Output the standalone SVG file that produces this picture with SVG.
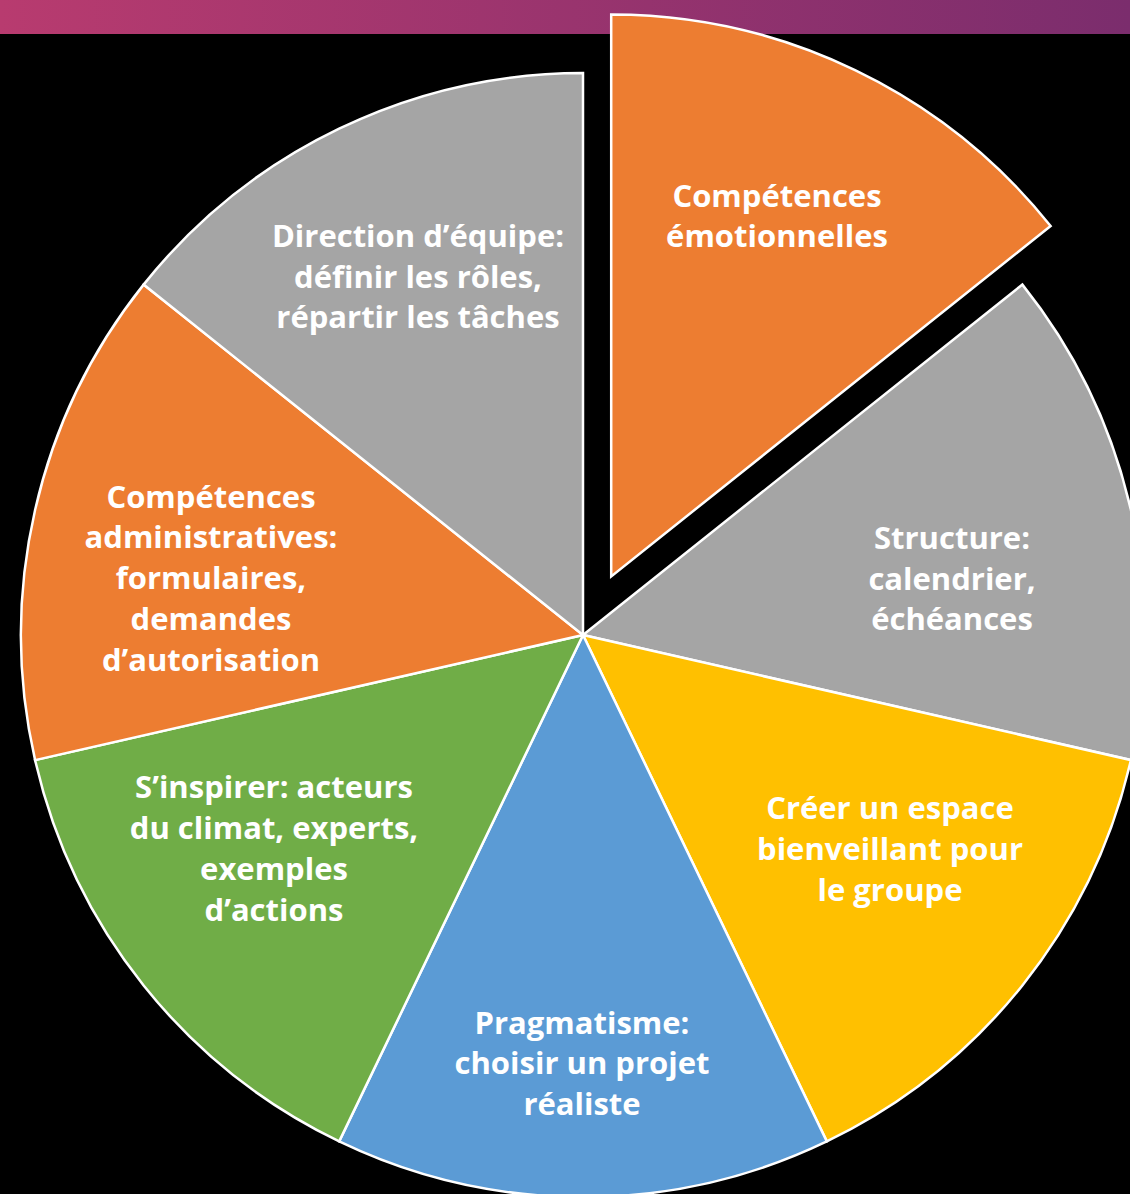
<svg xmlns="http://www.w3.org/2000/svg" width="1130" height="1194" viewBox="0 0 1130 1194">
<defs>
<linearGradient id="band" x1="0" y1="0" x2="1" y2="0">
<stop offset="0" stop-color="#B83B6F"/>
<stop offset="1" stop-color="#7B2D6D"/>
</linearGradient>
</defs>
<style>
.s{stroke:#fff;stroke-width:2.5;stroke-linejoin:miter}
.o{fill:#ED7D31}.g{fill:#A5A5A5}.y{fill:#FFC000}.b{fill:#5B9BD5}.gr{fill:#70AD47}
text{font-family:"Open Sans","Liberation Sans",sans-serif;font-weight:bold;font-size:31px;fill:#fff;text-anchor:middle}
</style>
<rect width="1130" height="1194" fill="#000"/>
<rect width="1130" height="34" fill="url(#band)"/>
<g id="slice-structure"><path class="s g" d="M583,635 L1022.4,284.6 A562,562 0 0 1 1130.9,760.1 Z"/>
<text x="952" y="549">Structure:</text><text x="952" y="590">calendrier,</text><text x="952" y="630">échéances</text></g>
<g id="slice-espace"><path class="s y" d="M583,635 L1130.9,760.1 A562,562 0 0 1 826.8,1141.4 Z"/>
<text x="890" y="819">Créer un espace</text><text x="890" y="860">bienveillant pour</text><text x="890" y="901">le groupe</text></g>
<g id="slice-pragmatisme"><path class="s b" d="M583,635 L826.8,1141.4 A562,562 0 0 1 339.2,1141.4 Z"/>
<text x="582" y="1034">Pragmatisme:</text><text x="582" y="1074">choisir un projet</text><text x="582" y="1115">réaliste</text></g>
<g id="slice-inspirer"><path class="s gr" d="M583,635 L339.2,1141.4 A562,562 0 0 1 35.1,760.1 Z"/>
<text x="274" y="798">S’inspirer: acteurs</text><text x="274" y="839">du climat, experts,</text><text x="274" y="880">exemples</text><text x="274" y="921">d’actions</text></g>
<g id="slice-admin"><path class="s o" d="M583,635 L35.1,760.1 A562,562 0 0 1 143.6,284.6 Z"/>
<text x="211" y="508">Compétences</text><text x="211" y="548">administratives:</text><text x="211" y="589">formulaires,</text><text x="211" y="630">demandes</text><text x="211" y="671">d’autorisation</text></g>
<g id="slice-direction"><path class="s g" d="M583,635 L143.6,284.6 A562,562 0 0 1 583,73 Z"/>
<text x="418" y="247">Direction d’équipe:</text><text x="418" y="288">définir les rôles,</text><text x="418" y="328">répartir les tâches</text></g>
<g id="slice-emotion"><path class="s o" d="M611.2,576.4 L611.2,14.4 A562,562 0 0 1 1050.6,226 Z"/>
<text x="777" y="207">Compétences</text><text x="777" y="247">émotionnelles</text></g>
</svg>
